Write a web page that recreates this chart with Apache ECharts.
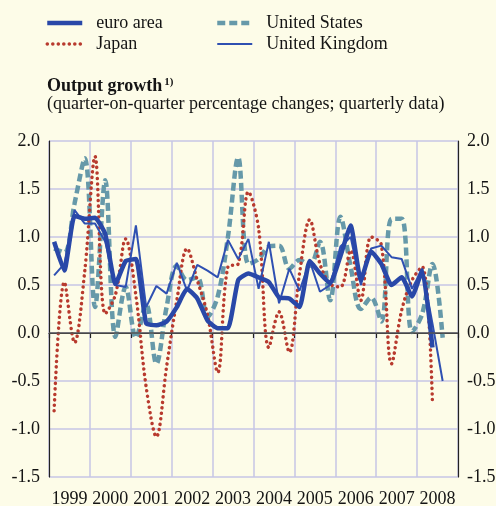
<!DOCTYPE html>
<html>
<head>
<meta charset="utf-8">
<script src="https://cdn.jsdelivr.net/npm/echarts@6/dist/echarts.min.js"></script>
<style>
  html, body { margin: 0; padding: 0; background: #fdfce8; }
  #main { width: 496px; height: 506px; }
</style>
</head>
<body>
<div id="main"></div>
<script>
// years on the axis, data is quarterly from 1999Q1
var years = ['1999', '2000', '2001', '2002', '2003', '2004', '2005', '2006', '2007', '2008'];
var quarters = [];
years.forEach(function (y) {
    ['Q1', 'Q2', 'Q3', 'Q4'].forEach(function (q) { quarters.push(y + q); });
});
var yTicks = [-1.5, -1.0, -0.5, 0.0, 0.5, 1.0, 1.5, 2.0];

var euroArea = [0.95, 0.65, 1.22, 1.19, 1.20, 1.03, 0.51, 0.75,
                0.77, 0.10, 0.08, 0.12, 0.27, 0.46, 0.36, 0.13,
                0.05, 0.05, 0.55, 0.62, 0.58, 0.53, 0.37, 0.36,
                0.27, 0.75, 0.62, 0.52, 0.80, 1.12, 0.55, 0.85,
                0.72, 0.50, 0.58, 0.38, 0.65, -0.15];
var japan = [-0.81, 0.53, -0.10, 0.65, 1.84, 0.20, 0.40, 0.98,
             0.39, -0.56, -1.08, -0.35, 0.34, 0.88, 0.55, 0.19,
             -0.41, 0.69, 0.72, 1.47, 1.09, -0.15, 0.22, -0.20,
             0.62, 1.18, 0.72, 0.51, 0.48, 0.86, 0.34, 1.00,
             0.92, -0.32, 0.24, 0.55, 0.69, -0.72];
var unitedStates = [0.88, 0.84, 1.35, 1.82, 0.27, 1.59, -0.04, 0.48,
                    -0.05, 0.30, -0.32, 0.27, 0.70, 0.55, 0.58, 0.17,
                    0.38, 1.00, 1.83, 0.72, 0.77, 0.90, 0.91, 0.67,
                    0.76, 0.70, 0.95, 0.34, 1.21, 0.69, 0.25, 0.37,
                    0.12, 1.19, 1.19, 0.01, 0.20, 0.72, -0.05];
var unitedKingdom = [0.60, 0.72, 1.28, 1.14, 1.14, 0.95, 0.50, 0.48,
                     1.12, 0.27, 0.49, 0.41, 0.73, 0.44, 0.71, 0.65,
                     0.58, 0.97, 0.77, 0.98, 0.46, 0.95, 0.31, 0.67,
                     0.44, 0.75, 0.43, 0.50, 0.90, 1.00, 0.50, 0.88,
                     0.91, 0.79, 0.77, 0.46, 0.67, 0.10, -0.50];

var serif = 'Liberation Serif';
var ink = '#141414';

// line looks, shared by series and legend
var euroStyle = { color: '#2948a8', width: 4.5 };
var japanStyle = { color: '#b83a2e', width: 3.5, type: [0.1, 5.4], cap: 'round' };
var usStyle = { color: '#6699a9', width: 4.5, type: [8, 4] };
var ukStyle = { color: '#2f50b2', width: 2 };

var myChart = echarts.init(document.getElementById('main'));

var yAxisBase = function (pos) {
    return {
        type: 'value',
        position: pos,
        min: yTicks[0],
        max: yTicks[yTicks.length - 1],
        interval: 0.5,
        axisLine: { show: true, lineStyle: { color: '#222', width: 1.2 } },
        axisTick: { show: false },
        axisLabel: {
            margin: 9,
            fontFamily: serif, fontSize: 18, color: ink,
            formatter: function (v) { return v.toFixed(1); }
        },
        splitLine: { show: pos === 'left', lineStyle: { color: '#c6c6e6', width: 1.5 } }
    };
};

var legendBase = function (left, items) {
    return {
        left: left, top: 14, orient: 'vertical', padding: 0,
        data: items,
        itemWidth: 35, itemHeight: 12, itemGap: 3,
        itemStyle: { opacity: 0 },
        textStyle: { fontFamily: serif, fontSize: 18, color: ink, padding: [0, 0, 0, 9] }
    };
};

var option = {
    backgroundColor: '#fdfce8',
    animation: false,
    title: {
        left: 42,
        top: 72,
        itemGap: 0,
        text: 'Output growth{sup|1)}',
        textStyle: {
            fontFamily: serif, fontSize: 18, fontWeight: 'bold', color: ink,
            rich: { sup: { fontFamily: serif, fontSize: 11, fontWeight: 'bold', color: ink, verticalAlign: 'top', padding: [0, 0, 6, 2] } }
        },
        subtext: '(quarter-on-quarter percentage changes; quarterly data)',
        subtextStyle: { fontFamily: serif, fontSize: 18, color: ink }
    },
    legend: [
        legendBase(45, [
            { name: 'euro area', lineStyle: euroStyle },
            { name: 'Japan', lineStyle: japanStyle }
        ]),
        legendBase(215, [
            { name: 'United States', lineStyle: usStyle },
            { name: 'United Kingdom', lineStyle: ukStyle }
        ])
    ],
    grid: { left: 49, right: 38, top: 141, bottom: 29, containLabel: false, outerBoundsMode: 'none' },
    xAxis: [{
        type: 'category',
        data: quarters,
        boundaryGap: true,
        axisLine: { show: false },
        axisTick: { show: false },
        axisLabel: { show: false },
        splitLine: { show: true, interval: 3, lineStyle: { color: '#c6c6e6', width: 1.5 } }
    }, {
        type: 'category',
        data: years,
        position: 'bottom',
        offset: 3,
        boundaryGap: true,
        axisLine: { show: true, lineStyle: { color: '#222', width: 1.2 } },
        axisTick: { show: true, length: 5, interval: 0, lineStyle: { color: '#222', width: 1.2 } },
        axisLabel: { interval: 0, margin: 10, fontFamily: serif, fontSize: 18, color: ink },
        splitLine: { show: false }
    }],
    yAxis: [yAxisBase('left'), yAxisBase('right')],
    series: [{
        name: 'United States',
        type: 'line',
        data: unitedStates,
        symbol: 'none',
        smooth: 0.35,
        lineStyle: usStyle,
        itemStyle: { color: usStyle.color },
        markLine: {
            silent: true,
            symbol: ['none', 'none'],
            label: { show: false },
            lineStyle: { color: '#555', width: 1.5, type: 'solid' },
            data: [{ yAxis: 0 }]
        }
    }, {
        name: 'Japan',
        type: 'line',
        data: japan,
        symbol: 'none',
        smooth: 0.35,
        lineStyle: japanStyle,
        itemStyle: { color: japanStyle.color }
    }, {
        name: 'United Kingdom',
        type: 'line',
        data: unitedKingdom,
        symbol: 'none',
        lineStyle: ukStyle,
        itemStyle: { color: ukStyle.color }
    }, {
        name: 'euro area',
        type: 'line',
        data: euroArea,
        symbol: 'none',
        smooth: 0.15,
        lineStyle: euroStyle,
        itemStyle: { color: euroStyle.color }
    }]
};

myChart.setOption(option);
</script>
</body>
</html>
